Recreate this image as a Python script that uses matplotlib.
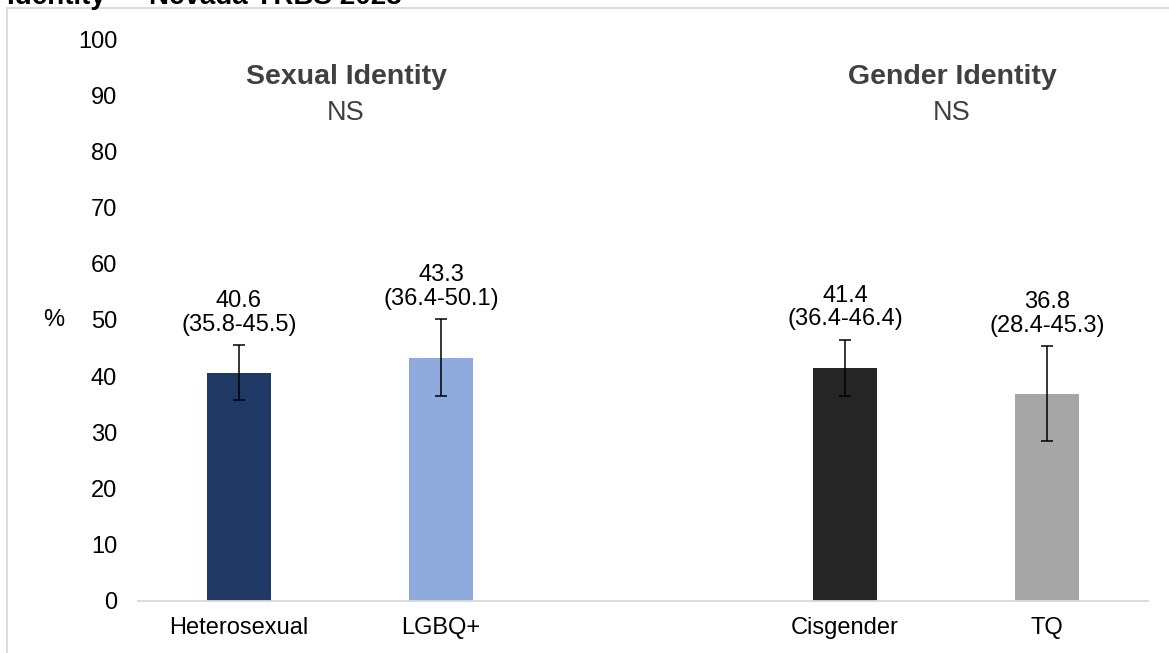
import matplotlib
matplotlib.use("Agg")
import matplotlib.pyplot as plt
from matplotlib.lines import Line2D
import numpy as np

plt.rcParams['font.family'] = ['Liberation Sans', 'DejaVu Sans']

# data
categories = ["Heterosexual", "LGBQ+", "", "Cisgender", "TQ"]
values = [40.6, 43.3, np.nan, 41.4, 36.8]
ci_low = [35.8, 36.4, np.nan, 36.4, 28.4]
ci_high = [45.5, 50.1, np.nan, 46.4, 45.3]
colors = ["#203864", "#8FAADC", "white", "#262626", "#A6A6A6"]
group_titles = ["Sexual Identity", "Gender Identity"]
group_sig = ["NS", "NS"]
group_pos = [0.53, 3.53]
title_line = "Identity \u2014 Nevada YRBS 2023"

W, H = 1169, 653
fig = plt.figure(figsize=(W / 100, H / 100), dpi=100)
ax = fig.add_axes([138 / W, 52.5 / H, 1010 / W, 561 / H])

x = np.arange(len(categories))
vals = np.array(values)
lo = np.array(ci_low)
hi = np.array(ci_high)
ax.bar(x, vals, width=0.317, color=colors, zorder=2)
ax.errorbar(x, vals, yerr=[vals - lo, hi - vals], fmt='none', ecolor='black',
            elinewidth=1.1, capsize=4.5, capthick=1.1, zorder=3)

for i in range(len(categories)):
    if np.isnan(vals[i]):
        continue
    ax.annotate("%.1f\n(%.1f-%.1f)" % (vals[i], lo[i], hi[i]), xy=(x[i], hi[i]),
                xytext=(0, 7), textcoords='offset points', ha='center', va='bottom',
                fontsize=17, linespacing=1.1, color='black')

for gx, t, s in zip(group_pos, group_titles, group_sig):
    ax.text(gx, 93.3, t, ha='center', va='center', fontsize=20.5,
            fontweight='bold', color='#404040')
    ax.text(gx, 86.9, s, ha='center', va='center', fontsize=19.5, color='#404040')

ax.set_xlim(-0.5, 4.5)
ax.set_ylim(0, 100)
ax.set_yticks(np.arange(0, 101, 10))
ax.set_xticks(x)
ax.set_xticklabels(categories)
ax.tick_params(axis='y', length=0, pad=15, labelsize=17)
ax.tick_params(axis='x', length=0, pad=12, labelsize=17)
for sp in ['left', 'right', 'top']:
    ax.spines[sp].set_visible(False)
ax.spines['bottom'].set_color('#D9D9D9')
ax.spines['bottom'].set_linewidth(1.3)

fig.text(54 / W, 1 - 320 / H, "%", ha='center', va='center', fontsize=17)

# frame (top and left edges visible) and the clipped title above it
fy = 1 - 7.5 / H
fx = 6.5 / W
fig.lines.append(Line2D([fx, fx], [0, fy], transform=fig.transFigure,
                        color='#D9D9D9', linewidth=1.3))
fig.lines.append(Line2D([fx, 1], [fy, fy], transform=fig.transFigure,
                        color='#D9D9D9', linewidth=1.3))
fig.text(7 / W, 1 - 4.5 / H, title_line, ha='left', va='baseline',
         fontsize=20, fontweight='bold', color='black')

fig.savefig("out.png", dpi=100)
